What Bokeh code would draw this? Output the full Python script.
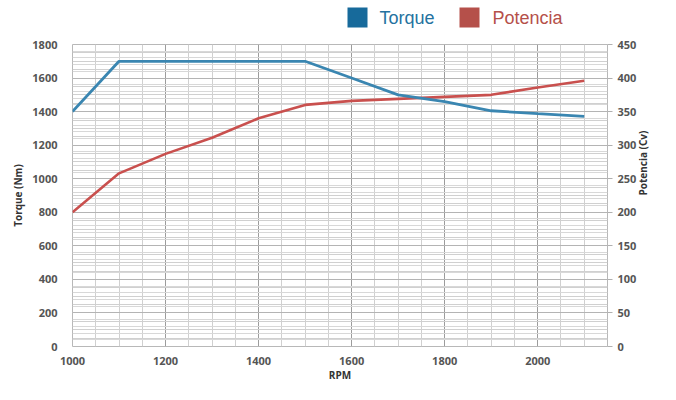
import math
from bokeh.plotting import figure
from bokeh.layouts import column
from bokeh.models import (Range1d, LinearAxis, FixedTicker, Grid, Label,
                          BoxAnnotation)
from bokeh.embed import file_html
from bokeh.resources import INLINE

# ---- data ----
rpm = [1000, 1100, 1200, 1300, 1400, 1500, 1600, 1700, 1800, 1900, 2000, 2100]
torque = [1400, 1700, 1700, 1700, 1700, 1700, 1600, 1500, 1460, 1405, 1388, 1372]
potencia = [200, 258, 287, 311, 340, 360, 366, 369, 372, 375, 386, 396]
x_ticks = [1000, 1200, 1400, 1600, 1800, 2000]
x_minor = list(range(1000, 2151, 50))
torque_ticks = list(range(0, 1801, 200))
torque_minor = list(range(0, 1801, 50))
potencia_ticks = list(range(0, 451, 50))
potencia_minor = list(range(0, 451, 10))
series_names = ["Torque", "Potencia"]

TORQUE_LINE = "#3a86b1"
POT_LINE = "#c9504e"
TORQUE_KEY = "#176a9b"
POT_KEY = "#b5504a"
TICK_FONT = "Open Sans"
W = 660
LEFT = 72
RIGHT = 50
LEG_H = 36
MAIN_H = 384 - LEG_H

# ---- legend strip ----
lg = figure(width=W, height=LEG_H, output_backend="svg", toolbar_location=None,
            x_range=Range1d(0, 1), y_range=Range1d(0, 1),
            min_border_left=LEFT, min_border_right=RIGHT,
            min_border_top=0, min_border_bottom=0, outline_line_color=None)
lg.axis.visible = False
lg.grid.visible = False
lg.background_fill_color = "white"
lg.border_fill_color = "white"

key_specs = [(347, TORQUE_KEY, "#2472a0", 379), (459, POT_KEY, "#b5504a", 492)]
for name, (kx, kcol, tcol, tx) in zip(series_names, key_specs):
    lg.add_layout(BoxAnnotation(left=kx - LEFT, right=kx - LEFT + 20,
                                bottom=LEG_H - 27, top=LEG_H - 7,
                                left_units="screen", right_units="screen",
                                bottom_units="screen", top_units="screen",
                                fill_color=kcol, fill_alpha=1, line_color=None))
    lg.add_layout(Label(x=tx - LEFT, y=LEG_H - 17, x_units="screen", y_units="screen",
                        text=name, text_font="Liberation Sans",
                        text_font_size="18px", text_color=tcol,
                        text_baseline="alphabetic"))

# ---- main chart ----
p = figure(width=W, height=MAIN_H, output_backend="svg", toolbar_location=None,
           x_range=Range1d(1000, 2150), y_range=Range1d(0, 1800),
           min_border_left=LEFT, min_border_right=RIGHT, min_border_top=8,
           min_border_bottom=34)
p.extra_y_ranges = {"pot": Range1d(0, 450)}
p.background_fill_color = "white"
p.border_fill_color = "white"
p.outline_line_color = "#b8b8b8"

# grids
p.xgrid.ticker = FixedTicker(ticks=x_ticks, minor_ticks=x_minor)
p.xgrid.grid_line_color = "#9c9c9c"
p.xgrid.minor_grid_line_color = "#d0d0d0"
p.ygrid.ticker = FixedTicker(ticks=torque_ticks, minor_ticks=torque_minor)
p.ygrid.grid_line_color = "#a0a0a0"
p.ygrid.minor_grid_line_color = "#d0d0d0"
g2 = Grid(dimension=1, y_range_name="pot",
          ticker=FixedTicker(ticks=potencia_ticks, minor_ticks=potencia_minor),
          grid_line_color="#b4b4b4", minor_grid_line_color="#d8d8d8")
p.add_layout(g2)

# lines
p.line(rpm, potencia, y_range_name="pot", line_color=POT_LINE, line_width=2.6)
p.line(rpm, torque, line_color=TORQUE_LINE, line_width=2.8)

# axes
xa = p.xaxis[0]
xa.ticker = FixedTicker(ticks=x_ticks)
xa.axis_label = "RPM"
ya = p.yaxis[0]
ya.ticker = FixedTicker(ticks=torque_ticks)
ya.axis_label = "Torque (Nm)"
ra = LinearAxis(y_range_name="pot", ticker=FixedTicker(ticks=potencia_ticks),
                axis_label="Potencia (Cv)")
p.add_layout(ra, "right")

for ax in (xa, ya, ra):
    ax.major_label_text_font = TICK_FONT
    ax.major_label_text_font_style = "bold"
    ax.major_label_text_font_size = "11px"
    ax.major_label_text_color = "#555555"
    ax.axis_label_text_font = TICK_FONT
    ax.axis_label_text_font_style = "bold"
    ax.axis_label_text_font_size = "10px"
    ax.axis_label_text_color = "#333333"
    ax.minor_tick_line_color = None
    ax.axis_line_color = None
    ax.major_label_standoff = 9
    ax.axis_label_standoff = 4
xa.major_tick_line_color = None
ya.major_tick_line_color = None
ra.major_tick_line_color = "#b0b0b0"
ra.major_tick_out = 5
ra.major_tick_in = 0
ra.major_label_standoff = 5
ra.axis_label_standoff = 4
xa.major_label_standoff = 4
xa.axis_label_standoff = 0
ra.axis_label_orientation = math.pi / 2

layout = column(lg, p, spacing=0)
open("out.html", "w").write(file_html(layout, INLINE))
